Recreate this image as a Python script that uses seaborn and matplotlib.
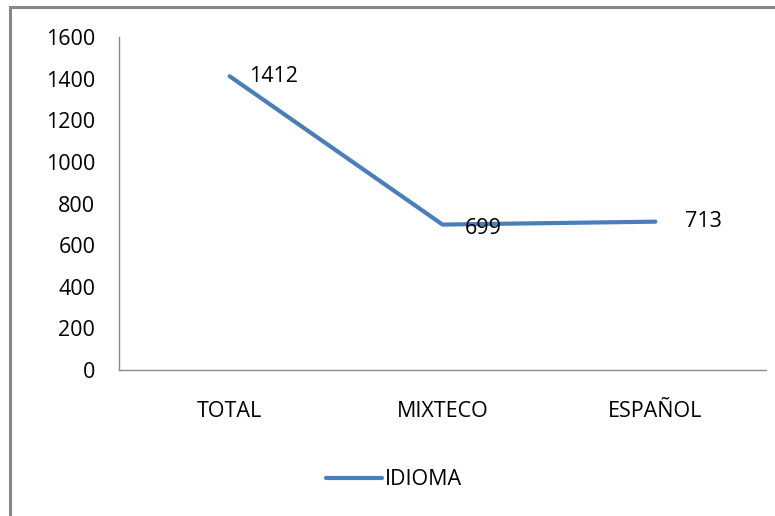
import seaborn as sns
import matplotlib.pyplot as plt
import pandas as pd
from matplotlib.patches import Rectangle

categories = ['TOTAL', 'MIXTECO', 'ESPAÑOL']
values = [1412, 699, 713]
series_name = 'IDIOMA'
y_ticks = [0, 200, 400, 600, 800, 1000, 1200, 1400, 1600]

df = pd.DataFrame({'categoria': categories, 'valor': values, 'serie': series_name})

sns.set_style('white')
plt.rcParams['font.family'] = ['Open Sans', 'DejaVu Sans']
fs = 15.5

fig = plt.figure(figsize=(7.75, 5.16), dpi=100)
ax = fig.add_axes([0.1535, 0.283, 0.835, 0.645])

line_color = '#4A7EBB'
sns.lineplot(data=df, x='categoria', y='valor', hue='serie', palette=[line_color],
             linewidth=3, sort=False, ax=ax)

ax.set_xlim(-0.52, 2.52)
ax.set_ylim(0, 1600)
ax.set_yticks(y_ticks)
ax.set_xlabel('')
ax.set_ylabel('')
ax.tick_params(axis='y', length=0, pad=17, labelsize=fs, labelcolor='black')
ax.tick_params(axis='x', length=0, pad=22, labelsize=fs, labelcolor='black')

for side in ['top', 'right']:
    ax.spines[side].set_visible(False)
for side in ['left', 'bottom']:
    ax.spines[side].set_color('#8c8c8c')
    ax.spines[side].set_linewidth(1)

# etiquetas de datos
offsets = [(14, 0), (16, -3), (21, 0)]
for i, (v, off) in enumerate(zip(values, offsets)):
    ax.annotate(str(v), (i, v), xytext=off, textcoords='offset points',
                ha='left', va='center', fontsize=fs, color='black')

leg = ax.legend(loc='center', bbox_to_anchor=(0.425, -0.33), frameon=False,
                fontsize=fs, handlelength=2.6, handletextpad=0.15)
for t in leg.get_texts():
    t.set_color('black')

# borde exterior del grafico (recortado a la derecha y abajo)
fig.patches.append(Rectangle((10 / 775, -0.05), 1.1, 1 - 7 / 516 + 0.05,
                             transform=fig.transFigure, fill=False,
                             edgecolor='#878787', linewidth=2.2))

fig.savefig('out.png', dpi=100)
